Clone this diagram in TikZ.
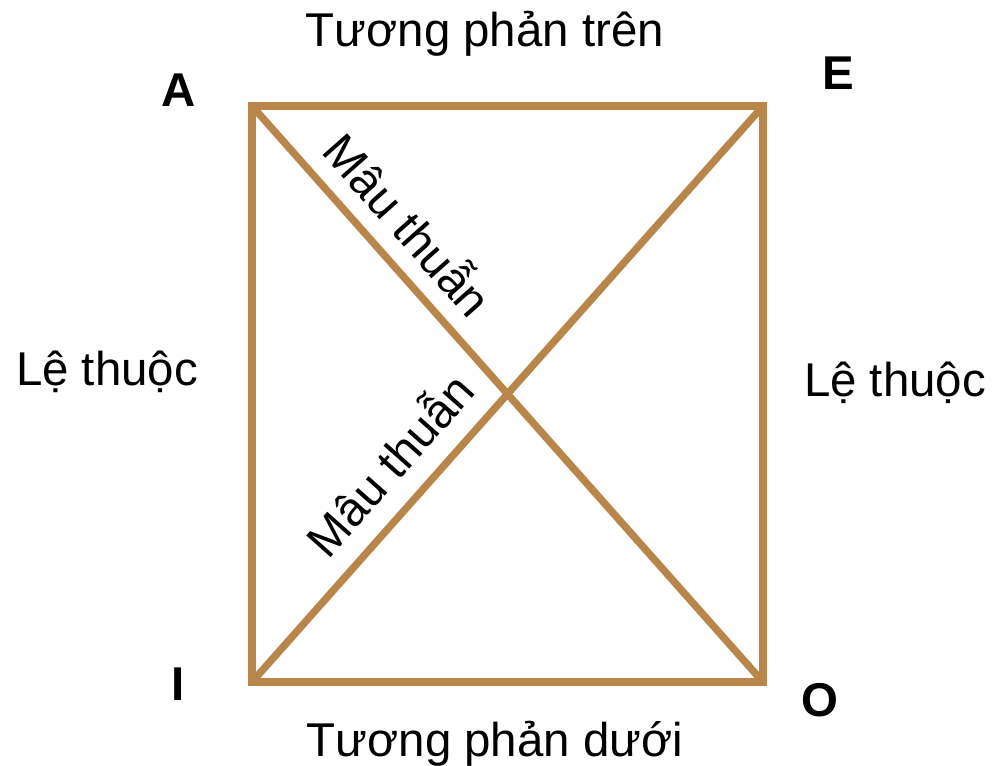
\documentclass[tikz,border=0pt]{standalone}
\usepackage{fontspec}
\setmainfont{Liberation Sans}
\usetikzlibrary{positioning}
\definecolor{squarebrown}{RGB}{184,134,74}

\begin{document}
\begin{tikzpicture}[
        x=0.02cm, y=0.02cm,
        every node/.style={font=\fontsize{27}{32}\selectfont, inner sep=3pt},
        side/.style={draw=squarebrown, line width=4.2pt, line join=miter},
        corner/.style={anchor=base, font=\fontsize{27}{32}\selectfont\bfseries},
        relation/.style={anchor=base}
    ]
        \useasboundingbox (0,0) rectangle (994,766);
        \coordinate (A) at (252,660);
        \coordinate (E) at (763,660);
        \coordinate (I) at (252,84);
        \coordinate (O) at (763,84);

        \node[corner] (lA) at (179,659) {A};
        \node[corner] (lE) at (838,676) {E};
        \node[corner] (lI) at (178,65) {I};
        \node[corner] (lO) at (820,49) {O};

        \node[relation] (top) at (485,719) {Tương phản trên};
        \node[relation] (bottom) at (495,9) {Tương phản dưới};
        \node[relation] (left) at (107,380) {Lệ thuộc};
        \node[relation] (right) at (895,369) {Lệ thuộc};

\draw[side] (A) -- (E) -- (O) -- (I) -- cycle;
        \draw[side] (A) -- node[pos=0.25, sloped, above=6pt] (cAO) {Mâu thuẫn} (O);
        \draw[side] (I) -- node[pos=0.33, sloped, above=8pt] (cIE) {Mâu thuẫn} (E);
\end{tikzpicture}
\end{document}
